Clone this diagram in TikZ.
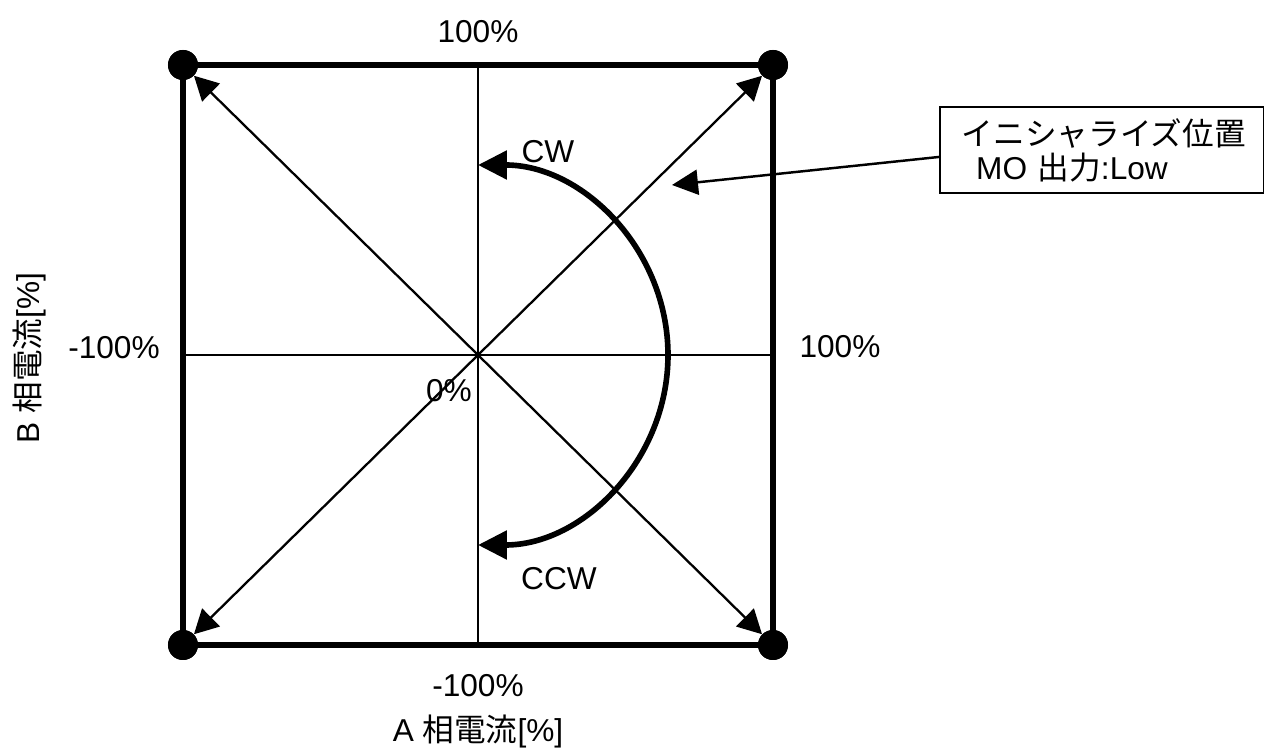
\documentclass[tikz,border=0pt]{standalone}
\usepackage{fontspec}
\setmainfont{Liberation Sans}
\newfontfamily\jp{Noto Sans CJK JP}
\usetikzlibrary{arrows.meta}

\begin{document}
\begin{tikzpicture}[
        every node/.style={font=\fontsize{18}{19.3}\selectfont},
        axis/.style={line width=1.2pt},
        frame/.style={line width=3.8pt},
        corner/.style={circle, fill, minimum size=0.6cm, inner sep=0pt},
        diag/.style={line width=1.3pt, -{Triangle[length=0.48cm, width=0.5cm]}},
        turn/.style={line width=3.2pt, {Triangle[length=0.58cm, width=0.56cm]}-{Triangle[length=0.58cm, width=0.56cm]}},
        callout/.style={draw, line width=1.1pt, minimum width=6.46cm, minimum height=1.72cm,
            text width=5.6cm, inner xsep=0.44cm, align=left, anchor=north west},
        pointer/.style={line width=1.4pt, -{Triangle[length=0.52cm, width=0.5cm]}}]
        \useasboundingbox (-9.56,-7.92) rectangle (15.72,7.1);

        % corners and centre
        \coordinate (o) at (0,0);
        \node[corner] (tl) at (-5.9,5.8) {};
        \node[corner] (tr) at (5.9,5.8) {};
        \node[corner] (bl) at (-5.9,-5.8) {};
        \node[corner] (br) at (5.9,-5.8) {};
        \coordinate (top) at (0,5.8);
        \coordinate (bottom) at (0,-5.8);
        \coordinate (left) at (-5.9,0);
        \coordinate (right) at (5.9,0);

        % axes through the centre
        \draw[axis] (top) -- (bottom);
        \draw[axis] (left) -- (right);

        % diagonals towards the corners
        \foreach \c in {tl,tr,bl,br}
            \draw[diag] (o) -- (\c);

        % frame
        \draw[frame] (tl.center) -- (tr.center) -- (br.center) -- (bl.center) -- cycle;
        \foreach \c in {tl,tr,bl,br}
            \node[corner] at (\c) {};

        % rotation arc
        \draw[turn] (0,3.8) arc[start angle=90, end angle=-90, radius=3.8];
        \node (cw) at (1.4,4.06) {CW};
        \node (ccw) at (1.62,-4.48) {CCW};

        % scale labels
        \node (ytop) at (0,6.46) {100\%};
        \node (ybot) at (0,-6.62) {-100\%};
        \node (xright) at (7.24,0.16) {100\%};
        \node (xleft) at (-7.28,0.14) {-100\%};
        \node (zero) at (-0.58,-0.72) {0\%};
        \node (alabel) at (0,-7.54) {A {\jp 相電流}[\%]};
        \node[rotate=90] (blabel) at (-8.96,-0.06) {B {\jp 相電流}[\%]};

        % initialise position callout
        \node[callout] (init) at (9.22,4.98) {{\jp イニシャライズ位置}\\\hspace{0.45em}MO {\jp 出力}:Low};
        \coordinate (inittip) at (3.88,3.4);
        \draw[pointer] ([yshift=-0.14cm]init.west) -- (inittip);
    \end{tikzpicture}
\end{document}
